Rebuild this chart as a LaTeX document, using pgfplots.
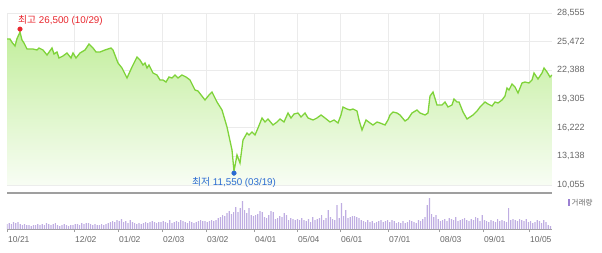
\documentclass[border=0pt]{standalone}
\usepackage{pgfplots}
\pgfplotsset{compat=1.18}
\usepackage{pgfplotstable}
\usepackage{fontspec}
\setmainfont{Liberation Sans}
\newfontfamily\kr{Noto Sans CJK KR}
\definecolor{gridc}{HTML}{EBEBEB}
\definecolor{linec}{HTML}{7FD33A}
\definecolor{filltop}{HTML}{C2EE9C}
\definecolor{fillbot}{HTML}{F8FDF4}
\definecolor{volc}{HTML}{BFADE2}
\definecolor{volleg}{HTML}{9B80D2}
\definecolor{txt}{HTML}{666666}
\definecolor{maxc}{HTML}{E8262D}
\definecolor{minc}{HTML}{2A6BD1}

\pgfplotstableread{
x y
7 25759
10 25759
12 25400
15 25006
17 25800
20 26500
22 25651
24 25329
27 24683
30 24683
33 24683
37 24576
39 24791
43 24576
47 24038
52 24791
54 24145
57 24360
59 23715
63 23930
67 24253
71 23715
73 24253
76 23715
80 24253
85 24576
89 25221
93 24791
96 24360
100 24360
105 24576
108 24683
111 24791
113 24576
118 23177
122 22640
127 21564
132 22747
137 23823
140 23500
143 22962
145 23177
147 22640
149 22962
153 22102
157 21887
160 21349
163 21349
166 21134
169 21671
172 21564
175 21887
178 21564
182 21887
186 21671
190 21349
195 20273
198 20166
205 19198
209 19735
212 20058
217 18982
222 18122
227 16293
232 13820
234 11550
237 13282
240 12421
243 14895
247 15648
249 15433
252 15756
255 15433
258 16186
262 17262
265 16831
268 17154
273 16509
277 16831
280 17154
284 16831
288 17799
291 17262
294 17692
298 17799
301 17369
305 17799
308 17262
313 17046
317 17262
321 17584
325 17262
330 16831
334 17046
338 16724
341 17584
343 18445
347 18230
350 18122
353 18230
357 18014
359 17046
362 15971
366 17046
370 16724
373 16509
377 16831
380 16724
385 16509
388 17046
390 17584
393 17907
397 17799
400 17584
405 16939
408 17154
412 17799
417 18122
420 17799
425 17584
428 17799
430 19628
433 20058
437 18660
442 18660
445 18982
448 18445
452 18660
454 19305
457 18982
459 18982
463 17907
467 17154
470 17369
473 17584
477 18014
480 18445
485 18982
488 18767
492 18552
495 18982
498 18875
502 19198
505 19628
507 20488
509 20273
512 20919
515 20596
518 19951
522 21026
525 21134
529 21026
532 21349
534 22102
538 21456
542 22102
544 22640
547 22209
550 21671
552 21887
}\price

\pgfplotstableread[row sep=\\]{v\\
5\\6\\5\\7\\6\\7\\5\\4\\5\\4\\4\\3\\4\\4\\5\\4\\5\\4\\6\\5\\4\\5\\6\\4\\3\\4\\5\\4\\3\\4\\
4\\5\\5\\4\\6\\5\\6\\6\\5\\4\\5\\4\\4\\5\\4\\5\\6\\7\\8\\7\\
9\\8\\10\\7\\8\\6\\9\\7\\6\\5\\6\\5\\6\\7\\6\\7\\8\\7\\6\\7\\
7\\8\\7\\6\\9\\6\\7\\8\\7\\9\\8\\7\\6\\8\\7\\6\\7\\8\\9\\8\\
8\\7\\8\\9\\8\\9\\11\\12\\14\\13\\16\\18\\15\\17\\22\\17\\21\\28\\19\\16\\21\\14\\
13\\14\\15\\18\\17\\12\\11\\14\\18\\17\\10\\11\\13\\12\\16\\14\\9\\11\\10\\9\\
10\\9\\11\\9\\8\\10\\7\\12\\9\\10\\11\\14\\9\\11\\19\\12\\10\\9\\24\\11\\
26\\13\\19\\11\\12\\13\\13\\12\\11\\9\\8\\7\\9\\7\\8\\6\\7\\8\\9\\7\\8\\9\\
7\\9\\8\\6\\7\\6\\8\\6\\7\\9\\8\\7\\6\\9\\8\\10\\12\\24\\31\\15\\12\\14\\10\\
8\\9\\10\\8\\11\\10\\9\\12\\8\\9\\10\\11\\9\\8\\10\\9\\12\\11\\8\\14\\
9\\8\\7\\9\\8\\7\\10\\8\\9\\8\\7\\21\\9\\10\\9\\8\\10\\9\\8\\10\\7\\
8\\6\\7\\9\\8\\6\\9\\7\\4\\3\\
}\vol

\begin{document}
\begin{tikzpicture}[x=1pt,y=1pt]
\useasboundingbox (0pt,0pt) rectangle (602pt,252pt);
\begin{axis}[
  at={(7pt,239pt)}, anchor=north west, scale only axis,
  width=545pt, height=172pt,
  xmin=7, xmax=552, ymin=10055, ymax=28555,
  scaled y ticks=false, scaled x ticks=false,
  xtick={7,74,118,162,206,254,297,340,388,439,483,529},
  xticklabels={},
  ytick={10055,13138,16222,19305,22388,25472,28555},
  yticklabels={{10,055},{13,138},{16,222},{19,305},{22,388},{25,472},{28,555}},
  yticklabel pos=right,
  grid=major, grid style={gridc, line width=0.8pt},
  axis line style={draw=none},
  major tick length=0pt,
  yticklabel style={font=\fontsize{9}{10}\selectfont, text=txt, anchor=west, inner sep=0pt, xshift=5pt},
]
\addplot[draw=none, top color=filltop, bottom color=fillbot] table[x=x,y=y]{\price} -- (axis cs:552,10055) -- (axis cs:7,10055) -- cycle;
\addplot[linec, line width=1.3pt, mark=none] table[x=x,y=y]{\price};
\addplot[only marks, mark=*, mark size=2.3pt, color=maxc, mark options={yshift=3pt}] coordinates {(20,26500)};
\addplot[only marks, mark=*, mark size=2.3pt, color=minc, mark options={yshift=-2pt}] coordinates {(234,11550)};
\end{axis}
\draw[gray!75, line width=1.3pt] (7pt,59pt) -- (552pt,59pt);
\begin{axis}[
  at={(7pt,57pt)}, anchor=north west, scale only axis,
  width=545pt, height=34pt,
  xmin=7, xmax=552, ymin=0, ymax=34,
  scaled y ticks=false, scaled x ticks=false,
  axis x line*=bottom, axis y line=none,
  xtick={7,74,118,162,206,254,297,340,388,439,483,529},
  xticklabels={10/21,12/02,01/02,02/03,03/02,04/01,05/04,06/01,07/01,08/03,09/01,10/05},
  xticklabel style={anchor=north west, inner sep=0pt, yshift=-4pt, xshift=1pt, font=\fontsize{8.5}{10}\selectfont, text=txt},
  xtick align=outside, major tick length=3pt,
  tick style={gray!75, line width=0.8pt},
  axis line style={gray!75, line width=0.8pt},
]
\addplot[ybar, bar width=1.2pt, fill=volc, draw=none] table[x expr=7+2.2*\coordindex, y=v]{\vol};
\end{axis}
\node[anchor=west, text=maxc, inner sep=0pt, font=\fontsize{9.8}{11}\selectfont] at (18pt,232pt) {{\kr 최고} 26,500 (10/29)};
\node[anchor=west, text=minc, inner sep=0pt, font=\fontsize{9.8}{11}\selectfont] at (192pt,70pt) {{\kr 최저} 11,550 (03/19)};
\fill[volleg] (568pt,46pt) rectangle (569.6pt,53pt);
\node[anchor=west, text=txt, inner sep=0pt, font=\fontsize{7.5}{8}\selectfont] at (571.5pt,49.5pt) {\kr 거래량};
\end{tikzpicture}
\end{document}
